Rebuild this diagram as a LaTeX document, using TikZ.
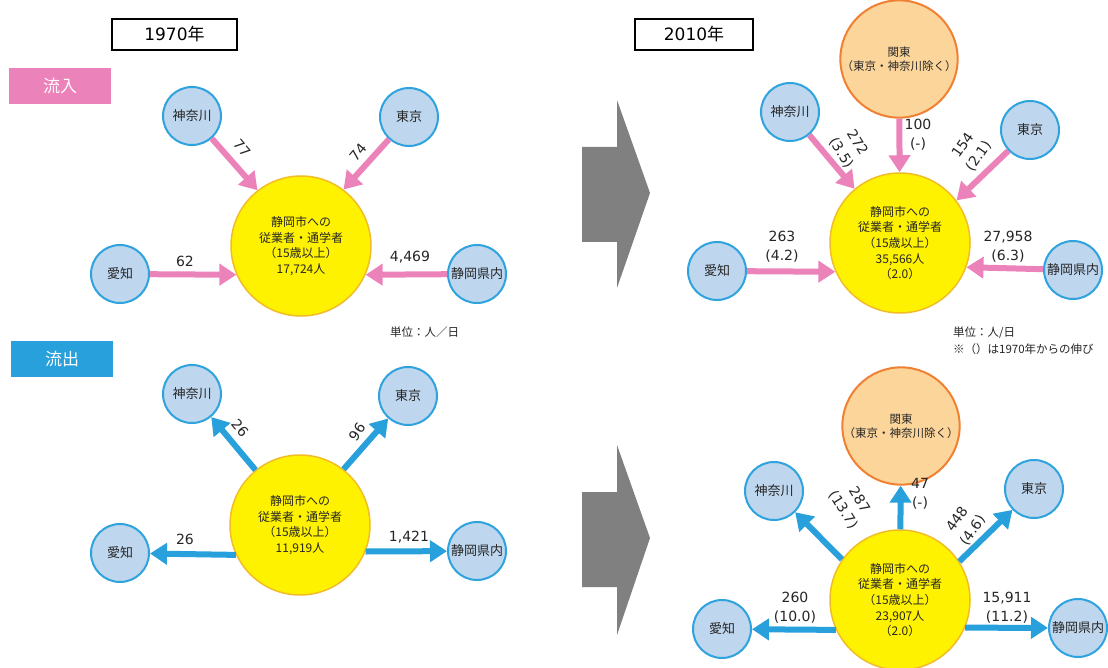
\documentclass[tikz,border=0pt]{standalone}
\usepackage{fontspec}
\setmainfont{Noto Sans CJK JP}
\newfontfamily\numfont{DejaVu Sans}
\usetikzlibrary{arrows.meta}
\definecolor{inpink}{RGB}{236,130,186}
\definecolor{outblue}{RGB}{40,160,220}
\definecolor{cityfill}{RGB}{190,214,238}
\definecolor{cityline}{RGB}{46,163,221}
\definecolor{kantofill}{RGB}{252,213,155}
\definecolor{kantoline}{RGB}{240,128,50}
\definecolor{hubline}{RGB}{242,188,40}
\definecolor{bigarrow}{RGB}{128,128,128}

\begin{document}
\begin{tikzpicture}[x=1pt, y=-1pt,
  city/.style={draw=cityline, line width=2pt, fill=cityfill, circle, minimum size=58pt, inner sep=0pt,
    text=black!85, font=\fontsize{13}{15}\selectfont},
  hub/.style={draw=hubline, line width=1.5pt, fill=yellow, circle, minimum size=140pt, inner sep=0pt,
    align=center, text=black!85, font=\fontsize{12}{15.7}\selectfont},
  kanto/.style={draw=kantoline, line width=2pt, fill=kantofill, circle, minimum size=106pt, inner sep=0pt,
    align=center, text=black!85, font=\fontsize{11.5}{14.5}\selectfont},
  inflow/.style={draw=inpink, line width=6pt, -{Triangle[length=17pt, width=21pt]}},
  outflow/.style={draw=outblue, line width=6pt, -{Triangle[length=17pt, width=21pt]}},
  num/.style={align=center, text=black!85, font=\numfont\fontsize{14}{19}\selectfont},
  yearbox/.style={draw=black, line width=1.5pt, minimum width=#1, minimum height=31pt, inner sep=0pt,
    font=\fontsize{17}{19}\selectfont},
  tagbox/.style={fill=#1, text=white, minimum width=102pt, minimum height=36pt, inner sep=0pt,
    font=\fontsize{17}{19}\selectfont},
  note/.style={anchor=west, inner sep=0pt, text=black!85, font=\fontsize{11.5}{14}\selectfont}]

  \useasboundingbox[fill=white] (0,0) rectangle (1108,668);

  % headings
  \node[yearbox=125pt] (y70) at (174.5,34.5) {{\numfont 1970}年};
  \node[yearbox=118pt] (y10) at (694,34.5) {{\numfont 2010}年};
  \node[tagbox=inpink] (tagin) at (60,86) {流入};
  \node[tagbox=outblue] (tagout) at (62,359) {流出};

  % big gray arrows
  \fill[bigarrow] (582,147) -- (617,147) -- (617,100) -- (650,193) -- (617,288) -- (617,242) -- (582,242) -- cycle;
  \fill[bigarrow] (582,492) -- (617,492) -- (617,445) -- (650,538) -- (617,635) -- (617,587) -- (582,587) -- cycle;

  % 1970 inflow
  \node[hub] (cA) at (301,246) {静岡市への\\従業者・通学者\\（15歳以上）\\17,724人};
  \node[city] (kanA) at (192,116) {神奈川};
  \node[city] (tokA) at (409,117) {東京};
  \node[city] (aiA) at (120,274) {愛知};
  \node[city] (shzA) at (477,274) {静岡県内};

  \draw[inflow] (kanA) -- (cA.128);
  \draw[inflow] (tokA) -- (cA.53);
  \draw[inflow] (aiA) -- (cA.204);
  \draw[inflow] (shzA) -- (cA.336);

  \node[num, rotate=-50] (nkanA) at (242,148) {77};
  \node[num, rotate=50] (ntokA) at (358,152) {74};
  \node[num] (naiA) at (185,261) {62};
  \node[num] (nshzA) at (410,257) {4,469};
  \node[note] (unitA) at (390,332) {単位：人／日};

  % 2010 inflow
  \node[hub] (cB) at (900,243) {静岡市への\\従業者・通学者\\（15歳以上）\\35,566人\\（2.0）};
  \node[kanto] (ktoB) at (899,59) {関東\\（東京・神奈川除く）};
  \node[city] (kanB) at (790,112) {神奈川};
  \node[city] (tokB) at (1030,130) {東京};
  \node[city] (aiB) at (717,271) {愛知};
  \node[city] (shzB) at (1073,270) {静岡県内};

  \draw[inflow] (ktoB) -- (cB);
  \draw[inflow] (kanB) -- (cB.130);
  \draw[inflow] (tokB) -- (cB.37);
  \draw[inflow] (aiB) -- (cB.204);
  \draw[inflow] (shzB) -- (cB.340);

  \node[num] (nktoB) at (918,135) {100\\(-)};
  \node[num, rotate=-58] (nkanB) at (849,148) {272\\(3.5)};
  \node[num, rotate=55] (ntokB) at (971,151) {154\\(2.1)};
  \node[num] (naiB) at (782,247) {263\\(4.2)};
  \node[num] (nshzB) at (1008,247) {27,958\\(6.3)};
  \node[note] (unitB) at (953,333) {単位：人/日};
  \node[note] (growB) at (953,349) {※（）は1970年からの伸び};

  % 1970 outflow
  \node[hub] (cC) at (300,525) {静岡市への\\従業者・通学者\\（15歳以上）\\11,919人};
  \node[city] (kanC) at (192,394) {神奈川};
  \node[city] (tokC) at (408,396) {東京};
  \node[city] (aiC) at (120,553) {愛知};
  \node[city] (shzC) at (477,551) {静岡県内};

  \draw[outflow] (cC.129) -- (kanC);
  \draw[outflow] (cC.52) -- (tokC);
  \draw[outflow] (cC.205) -- (aiC);
  \draw[outflow] (cC.338) -- (shzC);

  \node[num, rotate=-50] (nkanC) at (240,428) {26};
  \node[num, rotate=55] (ntokC) at (357,432) {96};
  \node[num] (naiC) at (185,539) {26};
  \node[num] (nshzC) at (409,537) {1,421};

  % 2010 outflow
  \node[hub] (cD) at (900,600) {静岡市への\\従業者・通学者\\（15歳以上）\\23,907人\\（2.0）};
  \node[kanto] (ktoD) at (901,426) {関東\\（東京・神奈川除く）};
  \node[city] (kanD) at (774,491) {神奈川};
  \node[city] (tokD) at (1034,489) {東京};
  \node[city] (aiD) at (722,629) {愛知};
  \node[city] (shzD) at (1078,628) {静岡県内};

  \draw[outflow] (cD) -- (ktoD);
  \draw[outflow] (cD.145) -- (kanD);
  \draw[outflow] (cD.33) -- (tokD);
  \draw[outflow] (cD.205) -- (aiD);
  \draw[outflow] (cD.337) -- (shzD);

  \node[num] (nktoD) at (920,494) {47\\(-)};
  \node[num, rotate=-58] (nkanD) at (851,505) {287\\(13.7)};
  \node[num, rotate=55] (ntokD) at (965,525) {448\\(4.6)};
  \node[num] (naiD) at (795,608) {260\\(10.0)};
  \node[num] (nshzD) at (1007,608) {15,911\\(11.2)};
\end{tikzpicture}
\end{document}
